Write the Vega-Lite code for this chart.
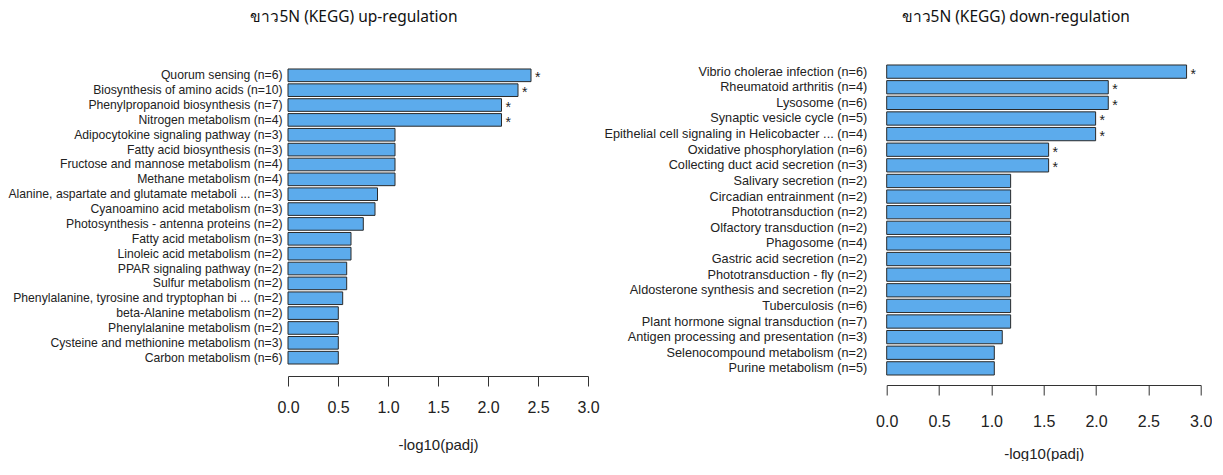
{
  "$schema": "https://vega.github.io/schema/vega-lite/v6.json",
  "padding": {"left": 0, "top": 9, "right": 0, "bottom": 0},
  "autosize": {"type": "pad"},
  "background": "white",
  "spacing": 298.7,
  "bounds": "flush",
  "config": {
    "view": {"stroke": null},
    "font": "Liberation Sans",
    "title": {"font": "Noto Sans", "fontSize": 15.5, "fontWeight": "normal", "color": "#111", "anchor": "middle", "frame": "group", "offset": 39}
  },
  "datasets": {
    "up": [
      {"term": "Quorum sensing (n=6)", "v": 2.43, "sig": "*"},
      {"term": "Biosynthesis of amino acids (n=10)", "v": 2.30, "sig": "*"},
      {"term": "Phenylpropanoid biosynthesis (n=7)", "v": 2.135, "sig": "*"},
      {"term": "Nitrogen metabolism (n=4)", "v": 2.135, "sig": "*"},
      {"term": "Adipocytokine signaling pathway (n=3)", "v": 1.07, "sig": ""},
      {"term": "Fatty acid biosynthesis (n=3)", "v": 1.07, "sig": ""},
      {"term": "Fructose and mannose metabolism (n=4)", "v": 1.07, "sig": ""},
      {"term": "Methane metabolism (n=4)", "v": 1.07, "sig": ""},
      {"term": "Alanine, aspartate and glutamate metaboli ... (n=3)", "v": 0.895, "sig": ""},
      {"term": "Cyanoamino acid metabolism (n=3)", "v": 0.87, "sig": ""},
      {"term": "Photosynthesis - antenna proteins (n=2)", "v": 0.753, "sig": ""},
      {"term": "Fatty acid metabolism (n=3)", "v": 0.63, "sig": ""},
      {"term": "Linoleic acid metabolism (n=2)", "v": 0.63, "sig": ""},
      {"term": "PPAR signaling pathway (n=2)", "v": 0.587, "sig": ""},
      {"term": "Sulfur metabolism (n=2)", "v": 0.587, "sig": ""},
      {"term": "Phenylalanine, tyrosine and tryptophan bi ... (n=2)", "v": 0.547, "sig": ""},
      {"term": "beta-Alanine metabolism (n=2)", "v": 0.503, "sig": ""},
      {"term": "Phenylalanine metabolism (n=2)", "v": 0.503, "sig": ""},
      {"term": "Cysteine and methionine metabolism (n=3)", "v": 0.503, "sig": ""},
      {"term": "Carbon metabolism (n=6)", "v": 0.503, "sig": ""}
    ],
    "down": [
      {"term": "Vibrio cholerae infection (n=6)", "v": 2.865, "sig": "*"},
      {"term": "Rheumatoid arthritis (n=4)", "v": 2.117, "sig": "*"},
      {"term": "Lysosome (n=6)", "v": 2.117, "sig": "*"},
      {"term": "Synaptic vesicle cycle (n=5)", "v": 1.996, "sig": "*"},
      {"term": "Epithelial cell signaling in Helicobacter ... (n=4)", "v": 1.996, "sig": "*"},
      {"term": "Oxidative phosphorylation (n=6)", "v": 1.547, "sig": "*"},
      {"term": "Collecting duct acid secretion (n=3)", "v": 1.547, "sig": "*"},
      {"term": "Salivary secretion (n=2)", "v": 1.184, "sig": ""},
      {"term": "Circadian entrainment (n=2)", "v": 1.184, "sig": ""},
      {"term": "Phototransduction (n=2)", "v": 1.184, "sig": ""},
      {"term": "Olfactory transduction (n=2)", "v": 1.184, "sig": ""},
      {"term": "Phagosome (n=4)", "v": 1.184, "sig": ""},
      {"term": "Gastric acid secretion (n=2)", "v": 1.184, "sig": ""},
      {"term": "Phototransduction - fly (n=2)", "v": 1.184, "sig": ""},
      {"term": "Aldosterone synthesis and secretion (n=2)", "v": 1.184, "sig": ""},
      {"term": "Tuberculosis (n=6)", "v": 1.184, "sig": ""},
      {"term": "Plant hormone signal transduction (n=7)", "v": 1.184, "sig": ""},
      {"term": "Antigen processing and presentation (n=3)", "v": 1.104, "sig": ""},
      {"term": "Selenocompound metabolism (n=2)", "v": 1.028, "sig": ""},
      {"term": "Purine metabolism (n=5)", "v": 1.028, "sig": ""}
    ]
  },
  "hconcat": [
    {
      "data": {"name": "up"},
      "width": 300,
      "height": 305,
      "title": {"text": "ขาว5N (KEGG) up-regulation", "dx": -84},
      "encoding": {
        "y": {
          "field": "term", "type": "nominal", "sort": null,
          "scale": {"paddingInner": 0.15, "paddingOuter": 0.336},
          "axis": {"title": null, "domain": false, "ticks": false, "labelPadding": 6, "labelFontSize": 12.2, "labelColor": "#222", "labelLimit": 400, "minExtent": 288, "maxExtent": 288, "labelFont": "Liberation Sans"}
        },
        "x": {
          "field": "v", "type": "quantitative",
          "scale": {"domain": [0, 3], "nice": false, "zero": true},
          "axis": {"title": "-log10(padj)", "values": [0, 0.5, 1, 1.5, 2, 2.5, 3], "format": ".1f", "offset": 7, "grid": false, "labelFlush": false, "labelOverlap": false, "domainColor": "#333", "tickColor": "#333", "tickSize": 10, "labelFontSize": 16, "labelPadding": 13, "labelColor": "#222", "titleFontSize": 15, "titleFontWeight": "normal", "titleColor": "#222", "titlePadding": 22, "labelFont": "Liberation Sans", "titleFont": "Liberation Sans"}
        }
      },
      "layer": [
        {"mark": {"type": "bar", "color": "#5CABEC", "stroke": "#2a2a2a", "strokeWidth": 1}},
        {"mark": {"type": "text", "align": "left", "baseline": "middle", "dx": 4, "dy": 3, "fontSize": 14, "color": "#222"}, "encoding": {"text": {"field": "sig"}}}
      ]
    },
    {
      "data": {"name": "down"},
      "width": 314,
      "height": 312,
      "title": {"text": "ขาว5N (KEGG) down-regulation", "dx": -28},
      "encoding": {
        "y": {
          "field": "term", "type": "nominal", "sort": null,
          "scale": {"paddingInner": 0.15, "paddingOuter": 0.064},
          "axis": {"title": null, "domain": false, "ticks": false, "labelPadding": 20, "labelFontSize": 12.7, "labelColor": "#222", "labelLimit": 400, "labelFont": "Liberation Sans"}
        },
        "x": {
          "field": "v", "type": "quantitative",
          "scale": {"domain": [0, 3], "nice": false, "zero": true},
          "axis": {"title": "-log10(padj)", "values": [0, 0.5, 1, 1.5, 2, 2.5, 3], "format": ".1f", "offset": 9, "grid": false, "labelFlush": false, "labelOverlap": false, "domainColor": "#333", "tickColor": "#333", "tickSize": 10, "labelFontSize": 16, "labelPadding": 18, "labelColor": "#222", "titleFontSize": 15, "titleFontWeight": "normal", "titleColor": "#222", "titlePadding": 17, "labelFont": "Liberation Sans", "titleFont": "Liberation Sans"}
        }
      },
      "layer": [
        {"mark": {"type": "bar", "color": "#5CABEC", "stroke": "#2a2a2a", "strokeWidth": 1}},
        {"mark": {"type": "text", "align": "left", "baseline": "middle", "dx": 4, "dy": 3, "fontSize": 14, "color": "#222"}, "encoding": {"text": {"field": "sig"}}}
      ]
    }
  ]
}
